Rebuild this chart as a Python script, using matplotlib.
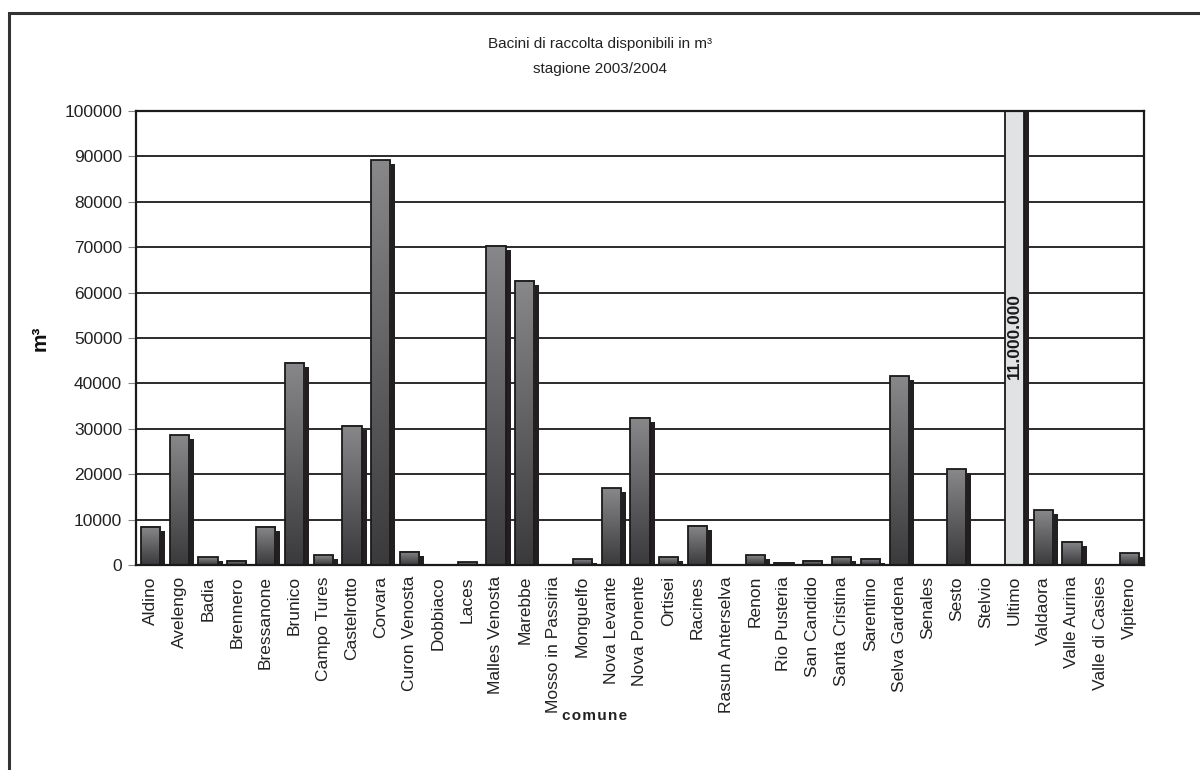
import numpy as np
import matplotlib
matplotlib.use("Agg")
import matplotlib.pyplot as plt
from matplotlib.colors import LinearSegmentedColormap
from matplotlib.patches import Rectangle
from matplotlib.transforms import ScaledTranslation

plt.rcParams["font.family"] = ["Liberation Sans", "DejaVu Sans"]

comuni = ["Aldino", "Avelengo", "Badia", "Brennero", "Bressanone", "Brunico",
          "Campo Tures", "Castelrotto", "Corvara", "Curon Venosta", "Dobbiaco",
          "Laces", "Malles Venosta", "Marebbe", "Mosso in Passiria", "Monguelfo",
          "Nova Levante", "Nova Ponente", "Ortisei", "Racines", "Rasun Anterselva",
          "Renon", "Rio Pusteria", "San Candido", "Santa Cristina", "Sarentino",
          "Selva Gardena", "Senales", "Sesto", "Stelvio", "Ultimo", "Valdaora",
          "Valle Aurina", "Valle di Casies", "Vipiteno"]
volumi = [8400, 28600, 1700, 900, 8400, 44500,
          2200, 30700, 89100, 2900, 0,
          600, 70300, 62600, 0, 1300,
          16900, 32400, 1700, 8600, 0,
          2200, 500, 900, 1800, 1400,
          41600, 0, 21100, 0, 11000000, 12100,
          5100, 0, 2600]
fuori_scala = "Ultimo"
fuori_scala_label = "11.000.000"

W, H, DPI = 1200, 770, 100
fig = plt.figure(figsize=(W / DPI, H / DPI), dpi=DPI)
ax = fig.add_axes([136 / W, 1 - 565 / H, 1008 / W, 454 / H])

ymax = 100000
ax.set_xlim(0, len(comuni))
ax.set_ylim(0, ymax)

# grid
for v in range(10000, ymax, 10000):
    ax.axhline(v, color="#1a1a1a", lw=1.3, zorder=1)

cmap = LinearSegmentedColormap.from_list("bar", ["#3a3a3c", "#88888a"])
grad = np.linspace(0, 1, 256).reshape(-1, 1)
bw = 0.66
shadow_tr = ax.transData + ScaledTranslation(5 / DPI, -4 / DPI, fig.dpi_scale_trans)

for i, (nome, v) in enumerate(zip(comuni, volumi)):
    if v <= 0:
        continue
    x0 = i + 0.5 - bw / 2
    # shadow
    ax.add_patch(Rectangle((x0, 0), bw, v, facecolor="#231f20", edgecolor="none",
                           transform=shadow_tr, zorder=2, clip_on=True))
    if nome == fuori_scala:
        ax.add_patch(Rectangle((x0, 0), bw, v, facecolor="#e1e2e3", edgecolor="#1a1a1a",
                               lw=1.3, zorder=3))
        ax.text(i + 0.5, 50400, fuori_scala_label, rotation=90, ha="center", va="center",
                fontsize=12.5, fontweight="bold", color="#1a1a1a", zorder=5)
    else:
        top = min(v, ymax)
        ax.imshow(grad, extent=[x0, x0 + bw, 0, top], origin="lower", cmap=cmap,
                  aspect="auto", zorder=3, interpolation="bilinear")
        ax.add_patch(Rectangle((x0, 0), bw, top, facecolor="none", edgecolor="#1a1a1a",
                               lw=1.3, zorder=4))

ax.set_xlim(0, len(comuni))
ax.set_ylim(0, ymax)

ax.set_yticks(range(0, ymax + 1, 10000))
ax.set_yticklabels([str(v) for v in range(0, ymax + 1, 10000)], fontsize=12.5, color="#222222")
ax.tick_params(axis="y", length=6, width=0.8, color="#888888", pad=4)
ax.set_xticks(np.arange(len(comuni)) + 0.5)
ax.set_xticklabels(comuni, rotation=90, fontsize=12.5, color="#222222")
ax.tick_params(axis="x", length=0, pad=8)
for s in ax.spines.values():
    s.set_color("#1a1a1a")
    s.set_linewidth(1.6)
    s.set_zorder(6)

fig.text(40 / W, 1 - 338 / H, "m³", rotation=90, ha="center", va="center",
         fontsize=15, fontweight="bold", color="#111111")
fig.text(595 / W, 1 - 716 / H, "\u200a".join("comune"), ha="center", va="center",
         fontsize=11, fontweight="bold", color="#222222")

fig.text(0.5, 1 - 44 / H, "Bacini di raccolta disponibili in m³", ha="center", va="center",
         fontsize=11, color="#222222")
fig.text(0.5, 1 - 69 / H, "stagione 2003/2004", ha="center", va="center",
         fontsize=11, color="#222222")

# outer frame (cut off at right and bottom like the reference)
fig.add_artist(Rectangle((9 / W, -0.05), 1.1, 1 - 13 / H + 0.05, transform=fig.transFigure,
                         facecolor="none", edgecolor="#333333", lw=2.2))

fig.savefig("out.png", dpi=DPI)
